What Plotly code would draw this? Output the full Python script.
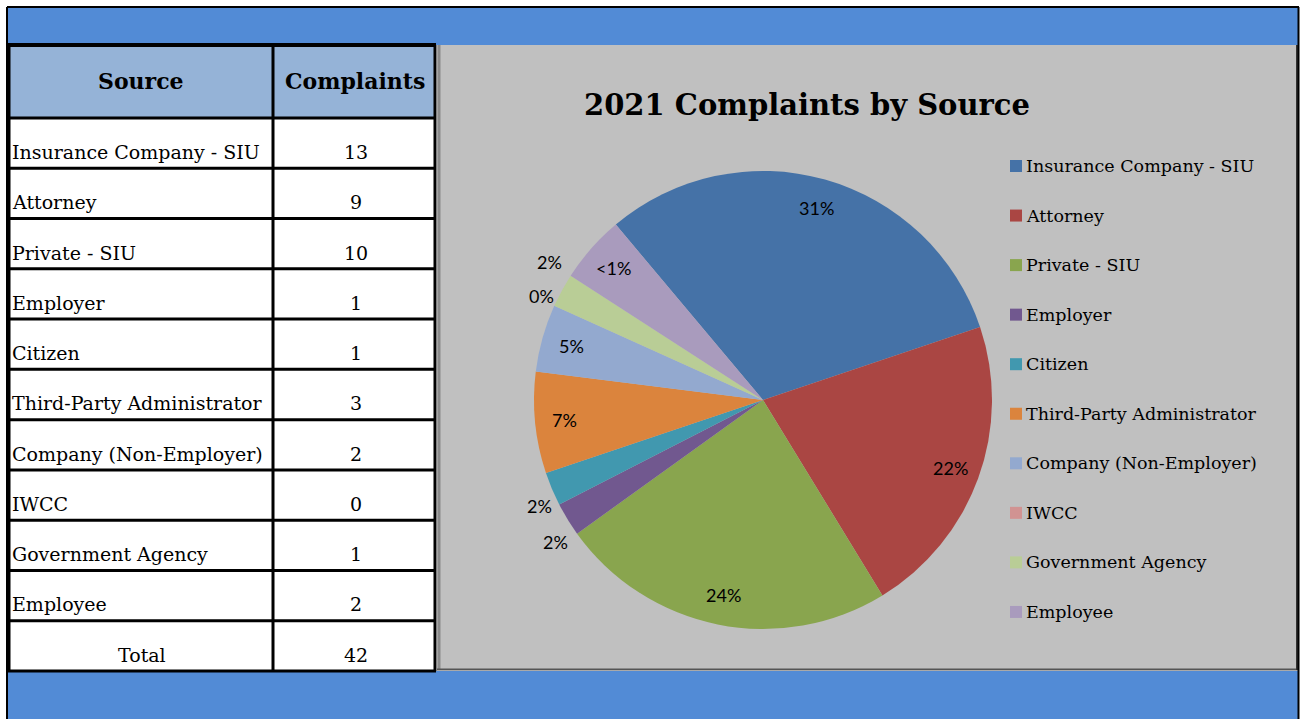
import math
import plotly.graph_objects as go

# ---- data ----
sources = ["Insurance Company - SIU", "Attorney", "Private - SIU", "Employer", "Citizen",
           "Third-Party Administrator", "Company (Non-Employer)", "IWCC",
           "Government Agency", "Employee"]
complaints = [13, 9, 10, 1, 1, 3, 2, 0, 1, 2]
pct_labels = ["31%", "22%", "24%", "2%", "2%", "7%", "5%", "0%", "2%", "<1%"]
label_outside = [False, False, False, True, True, False, False, True, True, False]
colors = ["#4572A7", "#AA4643", "#89A54E", "#71588F", "#4198AF", "#DB843D",
          "#93A9CF", "#D19392", "#B9CD96", "#A99BBD"]
title_text = "2021 Complaints by Source"

W, H = 1300, 719
SERIF = "DejaVu Serif"


def px(x):
    return x / W


def py(y):
    return 1 - y / H


shapes = []
annotations = []


def rect(x0, y0, x1, y1, fill):
    shapes.append(dict(type="rect", xref="paper", yref="paper",
                       x0=px(x0), x1=px(x1), y0=py(y1), y1=py(y0),
                       fillcolor=fill, line=dict(color=fill, width=0),
                       layer="below"))


def line(x0, y0, x1, y1, color="black", lw=3, layer="above"):
    shapes.append(dict(type="line", xref="paper", yref="paper",
                       x0=px(x0), x1=px(x1), y0=py(y0), y1=py(y1),
                       line=dict(color=color, width=lw), layer=layer))


def text(x, y, s, size=17, bold=False, xanchor="left", family=SERIF):
    annotations.append(dict(xref="paper", yref="paper", x=px(x), y=py(y),
                            text=f"<b>{s}</b>" if bold else s, showarrow=False,
                            xanchor=xanchor, yanchor="middle",
                            font=dict(family=family, size=size, color="black")))


# backgrounds
BLUE = "#528BD6"
rect(8, 8, 1298, 45, BLUE)
rect(8, 671, 1298, 719, BLUE)
rect(8, 45, 436, 118, "#95B3D7")
rect(8, 118, 436, 671, "white")
rect(437, 45, 1298, 670, "#C0C0C0")
# chart edges / shadow
line(439, 45, 439, 670, "#8a8a8a", 3, "below")
line(437, 669.5, 1298, 669.5, "#555555", 2)
line(1297, 45, 1297, 670, "#333333", 2)

# outer border
line(7, 7, 1299, 7, "black", 2)
line(7, 7, 7, 719, "black", 2)
line(1298.5, 7, 1298.5, 719, "black", 2)

# table grid
header_top, header_bot = 45, 118
n_rows = len(sources) + 1
row_h = (671 - header_bot) / n_rows
col0, col1, col2 = 8, 273, 436
line(col0, header_top, col2, header_top, "black", 4)
line(col0, header_bot, col2, header_bot, "black", 3)
for i in range(1, n_rows + 1):
    yy = header_bot + i * row_h
    line(col0, yy, col2, yy, "black", 3)
for xx in (col0 + 1, col1, col2 - 1):
    line(xx, header_top, xx, 671, "black", 3)

# header text
text((col0 + col1) / 2, 81, "Source", 22, True, "center")
text((col1 + col2) / 2, 81, "Complaints", 22, True, "center")

# rows
rows = list(zip(sources, complaints)) + [("Total", sum(complaints))]
for i, (s, c) in enumerate(rows):
    yc = header_bot + i * row_h + 34
    if s == "Total":
        text((col0 + col1) / 2 + 1, yc, s, 19, False, "center")
    else:
        text(10, yc, s, 19, False, "left")
    text((col1 + col2) / 2 + 1, yc, str(c), 19, False, "center")

# chart title
text(807, 105, title_text, 29, True, "center")

# manual legend
leg_x, leg_y0, leg_dy = 1010, 166, 49.55
for i, (s, col) in enumerate(zip(sources, colors)):
    yy = leg_y0 + i * leg_dy
    rect(leg_x, yy - 6, leg_x + 12, yy + 6, col)
    text(leg_x + 14, yy, s, 17.5, False, "left")

# pie
cx, cy, r = 763, 400, 229
rotation = -40
fig = go.Figure(go.Pie(
    labels=sources, values=complaints,
    textinfo="none",
    marker=dict(colors=colors, line=dict(width=0)),
    sort=False, direction="clockwise", rotation=rotation,
    showlegend=False, hoverinfo="label+value",
    domain=dict(x=[px(cx - r), px(cx + r)], y=[py(cy + r), py(cy - r)]),
))

# data labels placed along each slice's mid-angle (Excel-style)
total = sum(complaints)
cum = 0
placed = []
for v, lab, out in zip(complaints, pct_labels, label_outside):
    mid = rotation + 360 * (cum + v / 2) / total
    cum += v
    a = math.radians(mid)
    if out:
        k, yf = 1.06, 1.12
    else:
        k, yf = 0.87, 1.0
    lx = cx + k * r * math.sin(a)
    ly = cy - k * r * math.cos(a) * yf
    placed.append([lx, ly, lab, out])

# push apart outside labels that would collide
outs = sorted([p for p in placed if p[3]], key=lambda p: p[1])
min_gap = 34
for _ in range(5):
    for p, q in zip(outs, outs[1:]):
        gap = q[1] - p[1]
        if gap < min_gap:
            d = (min_gap - gap) / 2
            p[1] -= d
            q[1] += d

for lx, ly, lab, out in placed:
    text(lx, ly, lab, 18, False, "center", "Lato")

fig.update_layout(
    width=W, height=H, margin=dict(l=0, r=0, t=0, b=0),
    paper_bgcolor="white", plot_bgcolor="white",
    shapes=shapes, annotations=annotations, showlegend=False,
)
fig.write_html("out.html", config={"displayModeBar": False},
               post_script="document.body.style.margin='0';"
                           "document.body.style.overflow='hidden';")
